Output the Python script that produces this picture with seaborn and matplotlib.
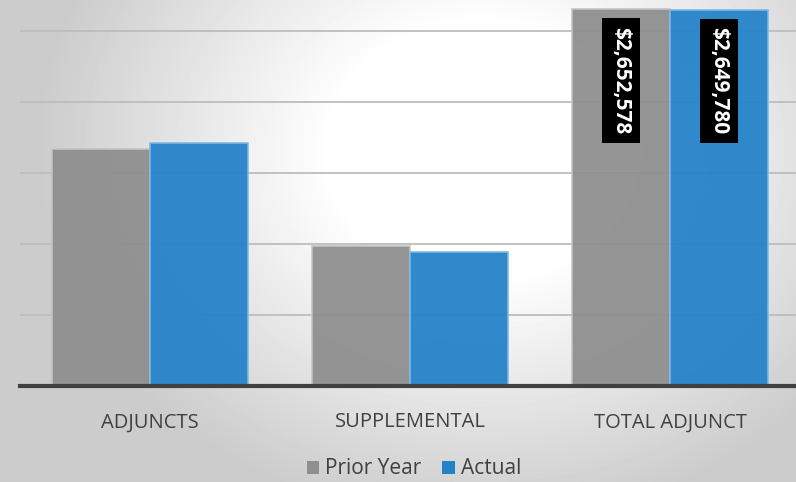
"""Adjunct budget chart: prior year vs actual"""
import numpy as np
import pandas as pd
import matplotlib
matplotlib.use('Agg')
import matplotlib.pyplot as plt
import seaborn as sns
from matplotlib.patches import Patch

# 数据
categories = ['ADJUNCTS', 'SUPPLEMENTAL', 'TOTAL ADJUNCT']
series = ['Prior Year', 'Actual']
prior_year = [1668000, 984578, 2652578]
actual = [1709000, 940780, 2649780]
label_text = {('TOTAL ADJUNCT', 'Prior Year'): '$2,652,578',
              ('TOTAL ADJUNCT', 'Actual'): '$2,649,780'}

colors = {'Prior Year': '#8f8f8f', 'Actual': '#2483c8'}
edges = {'Prior Year': '#c4c4c4', 'Actual': '#80b9e4'}

df = pd.DataFrame({
    'category': categories * 2,
    'series': [series[0]] * 3 + [series[1]] * 3,
    'value': prior_year + actual,
})

sns.set_style('white')
plt.rcParams['font.family'] = ['Open Sans', 'DejaVu Sans']

fig = plt.figure(figsize=(7.96, 4.82), dpi=100)

# 背景渐变
bg = fig.add_axes([0, 0, 1, 1], zorder=-10)
yy, xx = np.mgrid[0:482, 0:796]
r = np.sqrt(((xx - 480) / 500.0) ** 2 + ((yy - 150) / 420.0) ** 2)
shade = np.clip(1.0 - 0.24 * np.clip(r - 0.3, 0, None) / 0.7, 0.8, 1.0)
bg.imshow(shade, cmap='gray', vmin=0, vmax=1, aspect='auto', interpolation='bilinear')
bg.axis('off')

ax = fig.add_axes([20 / 796, 1 - 386 / 482, 780 / 796, 386 / 482])
ax.set_facecolor('none')

sns.barplot(data=df, x='category', y='value', hue='series', order=categories,
            hue_order=series, palette=colors, width=0.755, gap=0, ax=ax,
            legend=False, alpha=0.95, saturation=1, zorder=2)

for cont, s in zip(ax.containers, series):
    for bar in cont:
        bar.set_edgecolor(edges[s])
        bar.set_linewidth(1.2)

ax.set_xlim(-0.5, 2.5)
ax.set_ylim(0, 2718000)
ax.set_yticks([500000, 1000000, 1500000, 2000000, 2500000])
ax.set_yticklabels([])
ax.tick_params(axis='y', length=0)
ax.tick_params(axis='x', length=0, pad=19, labelsize=14.5, labelcolor='#404040')
ax.yaxis.grid(True, color='#bdbdbd', linewidth=1.3)
ax.set_axisbelow(True)
ax.set_xlabel('')
ax.set_ylabel('')
for side in ['top', 'right', 'left']:
    ax.spines[side].set_visible(False)
ax.spines['bottom'].set_color('#404040')
ax.spines['bottom'].set_linewidth(3)
ax.spines['bottom'].set_zorder(5)

# 数据标签
for cont, s in zip(ax.containers, series):
    for bar, cat in zip(cont, categories):
        txt = label_text.get((cat, s))
        if txt:
            x = bar.get_x() + bar.get_width() / 2
            ax.text(x, bar.get_height() - 125000, txt, rotation=-90, ha='center', va='top',
                    color='white', fontsize=15, fontweight='bold', zorder=6,
                    bbox=dict(boxstyle='square,pad=0.42', facecolor='black', edgecolor='none'))

handles = [Patch(facecolor=colors[s], edgecolor='none', label=s) for s in series]
fig.legend(handles=handles, loc='center', bbox_to_anchor=(414 / 796, 1 - 469 / 482),
           ncol=2, frameon=False, fontsize=15, labelcolor='#404040',
           handlelength=0.6, handleheight=0.6, handletextpad=0.3, columnspacing=1.0)

fig.savefig('out.png', dpi=100)
